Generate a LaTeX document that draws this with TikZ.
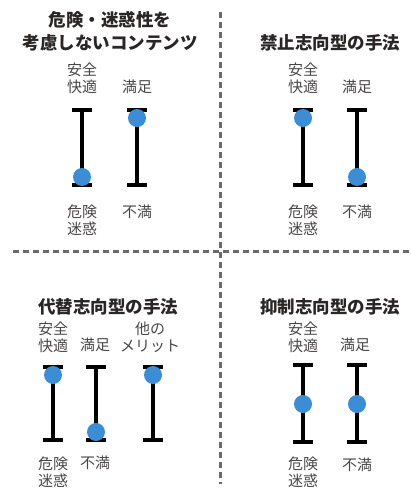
\documentclass[tikz,border=0pt]{standalone}
\usepackage{fontspec}
\newfontfamily\cjk{Noto Sans CJK JP}
\definecolor{dotblue}{HTML}{3B8ED6}
\definecolor{lblcol}{HTML}{4A4646}
\definecolor{ttlcol}{HTML}{2A2626}
\definecolor{sepcol}{HTML}{6A6A6A}
\tikzset{
  barline/.style={line width=4pt, black},
  dotnode/.style={circle, fill=dotblue, minimum size=18pt, inner sep=0pt},
  lbl/.style={font=\cjk\fontsize{15}{17}\selectfont, text=lblcol, align=center, inner sep=0pt},
  ttl/.style={font=\cjk\bfseries\fontsize{17.5}{23}\selectfont, text=ttlcol, align=center, inner sep=0pt},
  sepline/.style={line width=3pt, sepcol, dash pattern=on 6pt off 4pt}
}
\newcommand{\mybar}[4]{% name, x, ytop, ybottom
  \coordinate (#1t) at (#2,#3);
  \coordinate (#1b) at (#2,#4);
  \draw[barline] (#1t) -- (#1b);
  \draw[barline] ([xshift=-10pt]#1t) -- ([xshift=10pt]#1t);
  \draw[barline] ([xshift=-10pt]#1b) -- ([xshift=10pt]#1b);
}
\begin{document}
\begin{tikzpicture}[x=1pt,y=-1pt]
\useasboundingbox (0,0) rectangle (411,489);
% separators
\coordinate (hL) at (13,251);
\coordinate (hR) at (411,251);
\coordinate (vT) at (220,12);
\coordinate (vB) at (220,484);
\draw[sepline] (hL) -- (hR);
\draw[sepline] (vT) -- (vB);

% ---------- top-left ----------
\node[ttl] (t1) at (110,31) {危険・迷惑性を\\考慮しないコンテンツ};
\node[lbl] (a1) at (82,78) {安全\\快適};
\node[lbl] (a2) at (137,87) {満足};
\mybar{p1}{82}{110}{185}
\mybar{p2}{137}{110}{185}
\node[dotnode] (d1) at (82,177) {};
\node[dotnode] (d2) at (137,118) {};
\node[lbl] (c1) at (82,220) {危険\\迷惑};
\node[lbl] (c2) at (137,212) {不満};

% ---------- top-right ----------
\node[ttl] (t2) at (330,43) {禁止志向型の手法};
\node[lbl] (a3) at (303,78) {安全\\快適};
\node[lbl] (a4) at (357,87) {満足};
\mybar{p3}{303}{110}{185}
\mybar{p4}{357}{110}{185}
\node[dotnode] (d3) at (303,118) {};
\node[dotnode] (d4) at (357,177) {};
\node[lbl] (c3) at (303,220) {危険\\迷惑};
\node[lbl] (c4) at (357,212) {不満};

% ---------- bottom-left ----------
\node[ttl] (t3) at (108,307) {代替志向型の手法};
\node[lbl] (a5) at (53,337) {安全\\快適};
\node[lbl] (a6) at (95,345) {満足};
\node[lbl] (a7) at (150,337) {他の\\メリット};
\mybar{p5}{53}{367}{440}
\mybar{p6}{96}{367}{440}
\mybar{p7}{153}{367}{440}
\node[dotnode] (d5) at (53,375) {};
\node[dotnode] (d6) at (96,432) {};
\node[dotnode] (d7) at (153,375) {};
\node[lbl] (c5) at (53,472) {危険\\迷惑};
\node[lbl] (c6) at (95,463) {不満};

% ---------- bottom-right ----------
\node[ttl] (t4) at (330,307) {抑制志向型の手法};
\node[lbl] (a8) at (303,337) {安全\\快適};
\node[lbl] (a9) at (355,345) {満足};
\mybar{p8}{303}{365}{442}
\mybar{p9}{357}{365}{442}
\node[dotnode] (d8) at (303,404) {};
\node[dotnode] (d9) at (357,404) {};
\node[lbl] (c8) at (303,472) {危険\\迷惑};
\node[lbl] (c9) at (357,465) {不満};
\end{tikzpicture}
\end{document}
